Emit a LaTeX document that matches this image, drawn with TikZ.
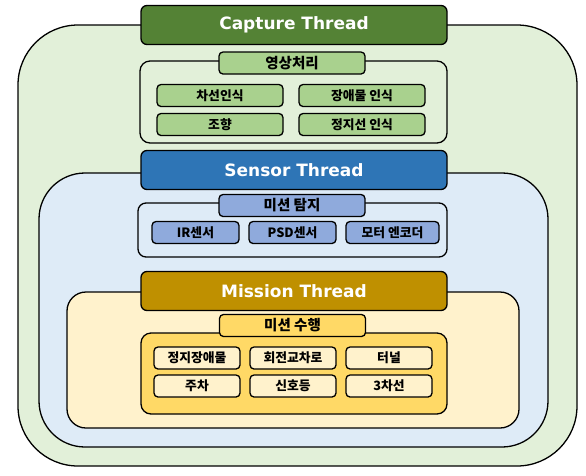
\documentclass[tikz,border=0pt]{standalone}
\usepackage{fontspec}
\usepackage{tikz}
\newfontfamily\krfont{Noto Sans CJK KR}
\newfontfamily\headfont{DejaVu Sans}

\definecolor{capbg}{HTML}{E2F0D9}
\definecolor{capdark}{HTML}{548235}
\definecolor{capmid}{HTML}{A9D18E}
\definecolor{senbg}{HTML}{DEEBF7}
\definecolor{sendark}{HTML}{2E75B6}
\definecolor{senmid}{HTML}{8FAADC}
\definecolor{misbg}{HTML}{FFF2CC}
\definecolor{misdark}{HTML}{BF9000}
\definecolor{mismid}{HTML}{FFD966}

\begin{document}
\begin{tikzpicture}[x=1pt, y=-1pt, line width=1.3pt,
	thread/.style={draw, rounded corners=6pt, minimum width=306pt, minimum height=39pt, inner sep=0pt, text=white, font=\headfont\bfseries\fontsize{17}{17}\selectfont},
	grouplabel/.style={draw, rounded corners=4pt, minimum width=146pt, minimum height=22pt, inner sep=0pt, font=\krfont\bfseries\fontsize{14.5}{15}\selectfont},
	item/.style={draw, rounded corners=4pt, minimum height=22pt, inner sep=0pt, font=\krfont\bfseries\fontsize{12.8}{13}\selectfont}]

	\useasboundingbox (0,0) rectangle (586,475);

	% capture thread
	\draw[fill=capbg, rounded corners=60pt] (18,25) rectangle (577,466);
	\node[thread, fill=capdark] (capture) at (294,25) {Capture Thread};

	\draw[fill=capbg, rounded corners=10pt] (140,61) rectangle (447,143);
	\node[grouplabel, fill=capmid] (vision) at (292,63) {영상처리};
	\node[item, fill=capmid, minimum width=126pt] (lane) at (220,95.5) {차선인식};
	\node[item, fill=capmid, minimum width=126pt] (obstacle) at (362,95.5) {장애물 인식};
	\node[item, fill=capmid, minimum width=126pt] (steer) at (220,124.5) {조향};
	\node[item, fill=capmid, minimum width=126pt] (stopline) at (362,124.5) {정지선 인식};

	% sensor thread
	\draw[fill=senbg, rounded corners=46pt] (39,173) rectangle (548,447);
	\node[thread, fill=sendark] (sensor) at (294,170) {Sensor Thread};

	\draw[fill=senbg, rounded corners=8pt] (138,203) rectangle (447,257);
	\node[grouplabel, fill=senmid] (detect) at (292,205.5) {미션 탐지};
	\node[item, fill=senmid, minimum width=87pt] (ir) at (195.5,232.5) {IR센서};
	\node[item, fill=senmid, minimum width=87pt] (psd) at (292.5,232.5) {PSD센서};
	\node[item, fill=senmid, minimum width=93pt] (encoder) at (392.5,232.5) {모터 엔코더};

	% mission thread
	\draw[fill=misbg, rounded corners=19pt] (67,292) rectangle (519,428);
	\node[thread, fill=misdark] (mission) at (294,291) {Mission Thread};

	\draw[fill=mismid, rounded corners=10pt] (141,333) rectangle (447,414);
	\node[grouplabel, fill=mismid] (perform) at (292.5,325.5) {미션 수행};
	\node[item, fill=misbg, minimum width=86pt] (stopobs) at (197,358) {정지장애물};
	\node[item, fill=misbg, minimum width=86pt] (roundabout) at (293,358) {회전교차로};
	\node[item, fill=misbg, minimum width=86pt] (tunnel) at (389,358) {터널};
	\node[item, fill=misbg, minimum width=86pt] (parking) at (197,386) {주차};
	\node[item, fill=misbg, minimum width=86pt] (signal) at (293,386) {신호등};
	\node[item, fill=misbg, minimum width=86pt] (threelane) at (389,386) {3차선};

\end{tikzpicture}
\end{document}
